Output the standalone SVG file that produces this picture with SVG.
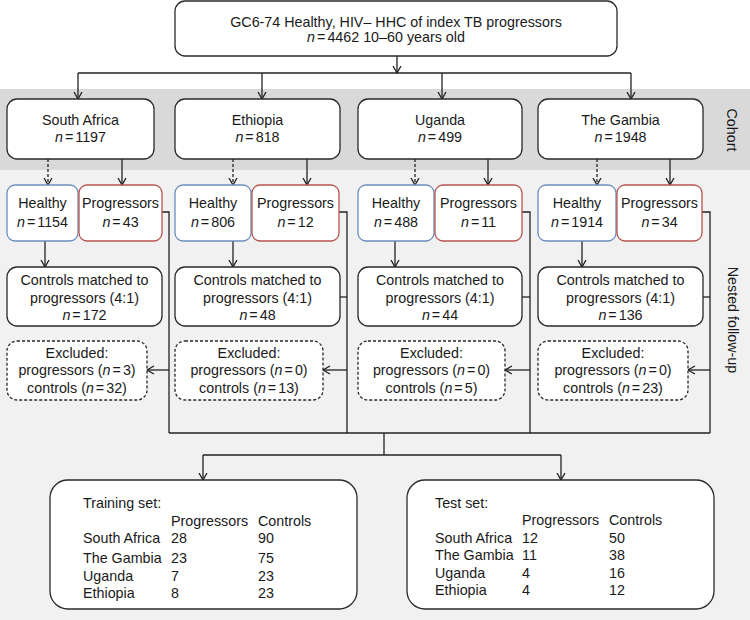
<svg xmlns="http://www.w3.org/2000/svg" width="750" height="620" viewBox="0 0 750 620">
<defs>
<style>
text{font-family:"Liberation Sans",Arial,Helvetica,sans-serif;font-size:14.3px;fill:#1a1a1a}
.c{text-anchor:middle}
.i{font-style:italic}
.box{fill:#fff;stroke:#2a2a2a;stroke-width:1.3}
.hl{fill:#fff;stroke:#6c8ebf;stroke-width:1.3}
.pr{fill:#fff;stroke:#b85450;stroke-width:1.3}
.ex{fill:#fff;stroke:#2a2a2a;stroke-width:1.3;stroke-dasharray:3 2}
.ln{fill:none;stroke:#222;stroke-width:1.3}
.ar{fill:none;stroke:#222;stroke-width:1.3;marker-end:url(#arr)}
.da{fill:none;stroke:#222;stroke-width:1.3;stroke-dasharray:3 2;marker-end:url(#arr)}
.side{text-anchor:middle;dominant-baseline:central}
</style>
<marker id="arr" viewBox="0 0 8 10" refX="7.5" refY="5" markerWidth="8" markerHeight="10" markerUnits="userSpaceOnUse" orient="auto">
<path d="M0.5,1 L7.5,5 L0.5,9" fill="none" stroke="#222" stroke-width="1.3" stroke-dasharray="none"/>
</marker>
</defs>

<rect x="0" y="0" width="750" height="620" fill="#fff"/>
<rect x="0" y="170" width="750" height="450" fill="#f1f1f1"/>
<rect x="0" y="89" width="750" height="81" fill="#d9d9d9"/>
<text class="side" transform="translate(732,130) rotate(90)">Cohort</text>
<text class="side" transform="translate(733,320) rotate(90)">Nested follow-up</text>

<g id="connectors">
<line class="ar" x1="397" y1="56" x2="397" y2="73"/>
<line class="ln" x1="78" y1="73" x2="631" y2="73"/>
<line class="ar" x1="78" y1="73" x2="78" y2="99"/>
<line class="ar" x1="262" y1="73" x2="262" y2="99"/>
<line class="ar" x1="442" y1="73" x2="442" y2="99"/>
<line class="ar" x1="631" y1="73" x2="631" y2="99"/>

<line class="da" x1="48" y1="159" x2="48" y2="185"/>
<line class="da" x1="233" y1="159" x2="233" y2="185"/>
<line class="da" x1="415" y1="159" x2="415" y2="185"/>
<line class="da" x1="597" y1="159" x2="597" y2="185"/>
<line class="ar" x1="122" y1="159" x2="122" y2="185"/>
<line class="ar" x1="307" y1="159" x2="307" y2="185"/>
<line class="ar" x1="488" y1="159" x2="488" y2="185"/>
<line class="ar" x1="670" y1="159" x2="670" y2="185"/>

<line class="ar" x1="45" y1="241" x2="45" y2="267"/>
<line class="ar" x1="233" y1="241" x2="233" y2="267"/>
<line class="ar" x1="395" y1="241" x2="395" y2="267"/>
<line class="ar" x1="582" y1="241" x2="582" y2="267"/>

<polyline class="ln" points="162,212 169,212 169,433"/>
<polyline class="ln" points="339,212 347,212 347,433"/>
<polyline class="ln" points="522,212 530,212 530,433"/>
<polyline class="ln" points="702,212 710,212 710,433"/>
<line class="ln" x1="340" y1="297" x2="347" y2="297"/>
<line class="ln" x1="522" y1="297" x2="530" y2="297"/>
<line class="ln" x1="703" y1="297" x2="710" y2="297"/>

<line class="ar" x1="169" y1="370" x2="147" y2="370"/>
<line class="ar" x1="347" y1="370" x2="323" y2="370"/>
<line class="ar" x1="530" y1="370" x2="505" y2="370"/>
<line class="ar" x1="710" y1="370" x2="688" y2="370"/>

<line class="ln" x1="169" y1="433" x2="710" y2="433"/>
<line class="ln" x1="384" y1="433" x2="384" y2="455"/>
<line class="ln" x1="203" y1="455" x2="561" y2="455"/>
<line class="ar" x1="203" y1="455" x2="203" y2="480"/>
<line class="ar" x1="561" y1="455" x2="561" y2="480"/>
</g>

<g id="top">
<rect class="box" x="175" y="1" width="442" height="55" rx="10"/>
<text class="c" x="396" y="27">GC6-74 Healthy, HIV– HHC of index TB progressors</text>
<text class="c" x="386" y="42"><tspan class="i">n</tspan><tspan dx="2">=</tspan><tspan dx="2">4462 10–60 years old</tspan></text>
</g>

<g id="cohort-sa">
<rect class="box" x="7" y="99" width="147" height="60" rx="10"/>
<text class="c" x="80.5" y="125">South Africa</text>
<text class="c" x="80.5" y="142"><tspan class="i">n</tspan><tspan dx="2">=</tspan><tspan dx="2">1197</tspan></text>
</g>
<g id="cohort-eth">
<rect class="box" x="175" y="99" width="165" height="60" rx="10"/>
<text class="c" x="257.5" y="125">Ethiopia</text>
<text class="c" x="257.5" y="142"><tspan class="i">n</tspan><tspan dx="2">=</tspan><tspan dx="2">818</tspan></text>
</g>
<g id="cohort-uga">
<rect class="box" x="358" y="99" width="164" height="60" rx="10"/>
<text class="c" x="440" y="125">Uganda</text>
<text class="c" x="440" y="142"><tspan class="i">n</tspan><tspan dx="2">=</tspan><tspan dx="2">499</tspan></text>
</g>
<g id="cohort-gam">
<rect class="box" x="538" y="99" width="165" height="60" rx="10"/>
<text class="c" x="620.5" y="125">The Gambia</text>
<text class="c" x="620.5" y="142"><tspan class="i">n</tspan><tspan dx="2">=</tspan><tspan dx="2">1948</tspan></text>
</g>

<g id="healthy-sa">
<rect class="hl" x="7" y="185" width="71" height="56" rx="8"/>
<text class="c" x="42.5" y="208">Healthy</text>
<text class="c" x="42.5" y="227"><tspan class="i">n</tspan><tspan dx="2">=</tspan><tspan dx="2">1154</tspan></text>
</g>
<g id="prog-sa">
<rect class="pr" x="79" y="185" width="83" height="56" rx="8"/>
<text class="c" x="120.5" y="208">Progressors</text>
<text class="c" x="120.5" y="227"><tspan class="i">n</tspan><tspan dx="2">=</tspan><tspan dx="2">43</tspan></text>
</g>
<g id="healthy-eth">
<rect class="hl" x="175" y="185" width="76" height="56" rx="8"/>
<text class="c" x="213" y="208">Healthy</text>
<text class="c" x="213" y="227"><tspan class="i">n</tspan><tspan dx="2">=</tspan><tspan dx="2">806</tspan></text>
</g>
<g id="prog-eth">
<rect class="pr" x="252" y="185" width="87" height="56" rx="8"/>
<text class="c" x="295.5" y="208">Progressors</text>
<text class="c" x="295.5" y="227"><tspan class="i">n</tspan><tspan dx="2">=</tspan><tspan dx="2">12</tspan></text>
</g>
<g id="healthy-uga">
<rect class="hl" x="358" y="185" width="76" height="56" rx="8"/>
<text class="c" x="396" y="208">Healthy</text>
<text class="c" x="396" y="227"><tspan class="i">n</tspan><tspan dx="2">=</tspan><tspan dx="2">488</tspan></text>
</g>
<g id="prog-uga">
<rect class="pr" x="435" y="185" width="87" height="56" rx="8"/>
<text class="c" x="478.5" y="208">Progressors</text>
<text class="c" x="478.5" y="227"><tspan class="i">n</tspan><tspan dx="2">=</tspan><tspan dx="2">11</tspan></text>
</g>
<g id="healthy-gam">
<rect class="hl" x="538" y="185" width="78" height="56" rx="8"/>
<text class="c" x="577" y="208">Healthy</text>
<text class="c" x="577" y="227"><tspan class="i">n</tspan><tspan dx="2">=</tspan><tspan dx="2">1914</tspan></text>
</g>
<g id="prog-gam">
<rect class="pr" x="617" y="185" width="85" height="56" rx="8"/>
<text class="c" x="659.5" y="208">Progressors</text>
<text class="c" x="659.5" y="227"><tspan class="i">n</tspan><tspan dx="2">=</tspan><tspan dx="2">34</tspan></text>
</g>

<g id="controls-sa">
<rect class="box" x="7" y="267" width="155" height="59" rx="10"/>
<text class="c" x="84.5" y="285">Controls matched to</text>
<text class="c" x="84.5" y="303">progressors (4:1)</text>
<text class="c" x="84.5" y="320"><tspan class="i">n</tspan><tspan dx="2">=</tspan><tspan dx="2">172</tspan></text>
</g>
<g id="controls-eth">
<rect class="box" x="175" y="267" width="165" height="59" rx="10"/>
<text class="c" x="257.5" y="285">Controls matched to</text>
<text class="c" x="257.5" y="303">progressors (4:1)</text>
<text class="c" x="257.5" y="320"><tspan class="i">n</tspan><tspan dx="2">=</tspan><tspan dx="2">48</tspan></text>
</g>
<g id="controls-uga">
<rect class="box" x="358" y="267" width="164" height="59" rx="10"/>
<text class="c" x="440" y="285">Controls matched to</text>
<text class="c" x="440" y="303">progressors (4:1)</text>
<text class="c" x="440" y="320"><tspan class="i">n</tspan><tspan dx="2">=</tspan><tspan dx="2">44</tspan></text>
</g>
<g id="controls-gam">
<rect class="box" x="538" y="267" width="165" height="59" rx="10"/>
<text class="c" x="620.5" y="285">Controls matched to</text>
<text class="c" x="620.5" y="303">progressors (4:1)</text>
<text class="c" x="620.5" y="320"><tspan class="i">n</tspan><tspan dx="2">=</tspan><tspan dx="2">136</tspan></text>
</g>

<g id="excluded-sa">
<rect class="ex" x="7" y="341" width="140" height="59" rx="10"/>
<text class="c" x="77" y="358">Excluded:</text>
<text class="c" x="77" y="375">progressors (<tspan class="i">n</tspan><tspan dx="2">=</tspan><tspan dx="2">3)</tspan></text>
<text class="c" x="77" y="393">controls (<tspan class="i">n</tspan><tspan dx="2">=</tspan><tspan dx="2">32)</tspan></text>
</g>
<g id="excluded-eth">
<rect class="ex" x="175" y="341" width="148" height="59" rx="10"/>
<text class="c" x="249" y="358">Excluded:</text>
<text class="c" x="249" y="375">progressors (<tspan class="i">n</tspan><tspan dx="2">=</tspan><tspan dx="2">0)</tspan></text>
<text class="c" x="249" y="393">controls (<tspan class="i">n</tspan><tspan dx="2">=</tspan><tspan dx="2">13)</tspan></text>
</g>
<g id="excluded-uga">
<rect class="ex" x="358" y="341" width="147" height="59" rx="10"/>
<text class="c" x="431.5" y="358">Excluded:</text>
<text class="c" x="431.5" y="375">progressors (<tspan class="i">n</tspan><tspan dx="2">=</tspan><tspan dx="2">0)</tspan></text>
<text class="c" x="431.5" y="393">controls (<tspan class="i">n</tspan><tspan dx="2">=</tspan><tspan dx="2">5)</tspan></text>
</g>
<g id="excluded-gam">
<rect class="ex" x="538" y="341" width="150" height="59" rx="10"/>
<text class="c" x="613" y="358">Excluded:</text>
<text class="c" x="613" y="375">progressors (<tspan class="i">n</tspan><tspan dx="2">=</tspan><tspan dx="2">0)</tspan></text>
<text class="c" x="613" y="393">controls (<tspan class="i">n</tspan><tspan dx="2">=</tspan><tspan dx="2">23)</tspan></text>
</g>

<g id="training">
<rect class="box" x="50" y="480" width="307" height="129" rx="18"/>
<text x="83" y="508">Training set:</text>
<text x="171" y="526">Progressors</text>
<text x="258" y="526">Controls</text>
<text x="83" y="543">South Africa</text><text x="171" y="543">28</text><text x="258" y="543">90</text>
<text x="83" y="563">The Gambia</text><text x="171" y="563">23</text><text x="258" y="563">75</text>
<text x="83" y="581">Uganda</text><text x="171" y="581">7</text><text x="258" y="581">23</text>
<text x="83" y="598">Ethiopia</text><text x="171" y="598">8</text><text x="258" y="598">23</text>
</g>
<g id="test">
<rect class="box" x="407" y="480" width="307" height="129" rx="18"/>
<text x="435" y="508">Test set:</text>
<text x="522" y="525">Progressors</text>
<text x="609" y="525">Controls</text>
<text x="435" y="543">South Africa</text><text x="522" y="543">12</text><text x="609" y="543">50</text>
<text x="435" y="560">The Gambia</text><text x="522" y="560">11</text><text x="609" y="560">38</text>
<text x="435" y="578">Uganda</text><text x="522" y="578">4</text><text x="609" y="578">16</text>
<text x="435" y="595">Ethiopia</text><text x="522" y="595">4</text><text x="609" y="595">12</text>
</g>
</svg>
